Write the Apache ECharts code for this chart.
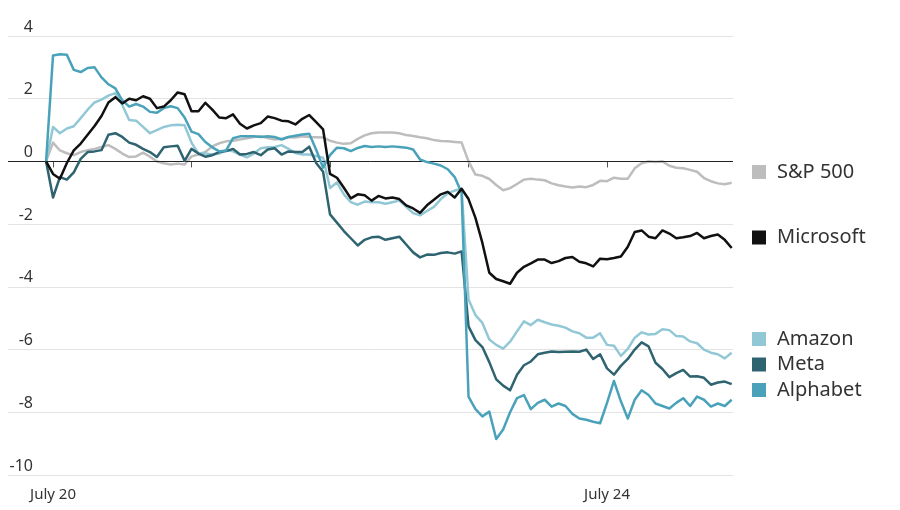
<!DOCTYPE html>
<html>
<head>
<meta charset="utf-8">
<script src="https://cdn.jsdelivr.net/npm/echarts@6/dist/echarts.min.js"></script>
<style>
html,body{margin:0;padding:0;background:#fff;}
#chart{width:900px;height:510px;}
</style>
</head>
<body>
<div id="chart"></div>
<script>
// Tick positions (data index) and labels
var tickPositions = [1, 21, 41, 61, 81];
var tickLabels = ['July 20', '', '', '', 'July 24'];

// Percent change series (one value per interval)
var sp500 = [0,0.6,0.35,0.26,0.2,0.3,0.36,0.4,0.46,0.52,
  0.4,0.25,0.14,0.16,0.28,0.15,0.0,-0.06,-0.1,-0.07,
  -0.1,0.16,0.22,0.3,0.48,0.58,0.64,0.66,0.7,0.74,
  0.78,0.8,0.75,0.7,0.72,0.78,0.76,0.8,0.78,0.77,
  0.76,0.66,0.6,0.56,0.58,0.72,0.83,0.9,0.92,0.92,
  0.92,0.9,0.84,0.81,0.77,0.74,0.68,0.65,0.64,0.62,
  0.6,0.0,-0.42,-0.46,-0.56,-0.75,-0.92,-0.85,-0.72,-0.58,
  -0.55,-0.58,-0.6,-0.7,-0.76,-0.8,-0.83,-0.8,-0.82,-0.75,
  -0.62,-0.63,-0.52,-0.55,-0.55,-0.22,-0.06,0.0,-0.02,0.0,
  -0.14,-0.2,-0.22,-0.27,-0.33,-0.53,-0.63,-0.7,-0.73,-0.68];

var microsoft = [0,-0.4,-0.55,-0.05,0.35,0.57,0.85,1.13,1.45,1.88,
  2.05,1.85,2.0,1.95,2.08,2.0,1.7,1.75,1.95,2.2,
  2.14,1.6,1.6,1.87,1.65,1.4,1.38,1.5,1.2,1.05,
  1.15,1.22,1.43,1.38,1.3,1.28,1.18,1.36,1.48,1.25,
  1.02,-0.4,-0.52,-0.84,-1.18,-1.05,-1.08,-1.25,-1.1,-1.18,
  -1.15,-1.2,-1.4,-1.5,-1.64,-1.4,-1.22,-1.05,-0.97,-1.15,
  -0.87,-1.2,-1.8,-2.6,-3.55,-3.75,-3.82,-3.9,-3.55,-3.36,
  -3.25,-3.13,-3.13,-3.24,-3.18,-3.08,-3.05,-3.2,-3.25,-3.35,
  -3.1,-3.12,-3.08,-3.03,-2.72,-2.25,-2.2,-2.4,-2.45,-2.2,
  -2.3,-2.45,-2.42,-2.38,-2.28,-2.45,-2.38,-2.33,-2.5,-2.76];

var amazon = [0,1.1,0.9,1.05,1.12,1.38,1.65,1.88,1.97,2.1,
  2.18,1.8,1.32,1.3,1.1,0.9,1.0,1.1,1.15,1.17,
  1.15,0.6,0.25,0.25,0.22,0.25,0.36,0.32,0.22,0.13,
  0.25,0.42,0.45,0.46,0.52,0.4,0.27,0.22,0.22,0.17,
  0.12,-0.85,-0.67,-1.05,-1.3,-1.38,-1.28,-1.3,-1.3,-1.35,
  -1.3,-1.25,-1.45,-1.65,-1.72,-1.58,-1.45,-1.2,-1.02,-0.93,
  -0.88,-4.4,-4.9,-5.15,-5.68,-5.85,-5.97,-5.75,-5.42,-5.1,
  -5.22,-5.05,-5.13,-5.2,-5.24,-5.3,-5.42,-5.48,-5.62,-5.62,
  -5.48,-5.85,-5.88,-6.2,-5.98,-5.62,-5.45,-5.52,-5.5,-5.35,
  -5.38,-5.57,-5.58,-5.74,-5.8,-6.0,-6.1,-6.15,-6.28,-6.1];

var meta = [0,-1.15,-0.5,-0.58,-0.35,0.08,0.3,0.32,0.36,0.85,
  0.9,0.78,0.6,0.53,0.4,0.3,0.14,0.45,0.48,0.5,
  0.02,0.4,0.25,0.15,0.2,0.3,0.33,0.4,0.22,0.24,
  0.3,0.2,0.38,0.42,0.22,0.32,0.3,0.3,0.47,-0.05,
  -0.33,-1.69,-1.95,-2.22,-2.45,-2.68,-2.5,-2.42,-2.4,-2.5,
  -2.45,-2.4,-2.65,-2.9,-3.06,-2.97,-2.98,-2.92,-2.9,-2.94,
  -2.87,-5.26,-5.7,-5.92,-6.4,-6.95,-7.15,-7.3,-6.8,-6.5,
  -6.38,-6.15,-6.1,-6.06,-6.08,-6.07,-6.06,-6.07,-6.0,-6.3,
  -6.15,-6.6,-6.8,-6.52,-6.3,-6.0,-5.77,-5.9,-6.42,-6.62,
  -6.88,-6.75,-6.65,-6.86,-6.85,-6.9,-7.12,-7.05,-7.02,-7.1];

var alphabet = [0,3.38,3.42,3.4,2.92,2.85,2.98,3.0,2.68,2.46,
  2.33,1.95,1.75,1.83,1.75,1.58,1.55,1.7,1.76,1.7,
  1.4,0.95,0.87,0.62,0.45,0.32,0.35,0.74,0.8,0.8,
  0.8,0.78,0.8,0.78,0.7,0.78,0.82,0.86,0.88,0.37,
  -0.2,0.2,0.44,0.42,0.33,0.43,0.49,0.46,0.48,0.46,
  0.48,0.46,0.44,0.38,0.06,-0.02,-0.07,-0.13,-0.25,-0.5,
  -1.0,-7.5,-7.9,-8.13,-7.98,-8.85,-8.55,-8.0,-7.55,-7.45,
  -7.9,-7.7,-7.6,-7.82,-7.72,-7.8,-8.05,-8.2,-8.24,-8.3,
  -8.35,-7.7,-7.0,-7.65,-8.2,-7.6,-7.3,-7.45,-7.72,-7.8,
  -7.88,-7.7,-7.55,-7.8,-7.5,-7.6,-7.82,-7.72,-7.8,-7.6];

var seriesNames = ['S&P 500', 'Amazon', 'Meta', 'Alphabet', 'Microsoft'];
var seriesValues = [sp500, amazon, meta, alphabet, microsoft];
var seriesColors = ['#bdbdbd', '#92c8d6', '#2e6370', '#4aa2ba', '#111111'];

// Legend labels (order as shown on the right)
var legendNames = ['S&P 500', 'Microsoft', 'Amazon', 'Meta', 'Alphabet'];
var legendColors = ['#bdbdbd', '#111111', '#92c8d6', '#2e6370', '#4aa2ba'];
var legendY = [172, 237.5, 339, 364.5, 390];

function toPairs(arr) { return arr.map(function (v, i) { return [i, v]; }); }

var series = seriesNames.map(function (name, k) {
  var s = {
    name: name, type: 'line', data: toPairs(seriesValues[k]),
    showSymbol: false, symbol: 'none', smooth: false,
    lineStyle: { color: seriesColors[k], width: 2.5, join: 'round' },
    itemStyle: { color: seriesColors[k] },
    z: 3 + k, animation: false, silent: true
  };
  if (k === 0) {
    s.markLine = {
      silent: true, symbol: 'none', animation: false,
      label: { show: false },
      lineStyle: { color: '#222', width: 1, type: 'solid' },
      data: [{ yAxis: 0 }]
    };
  }
  return s;
});

var graphics = [];
legendNames.forEach(function (n, k) {
  graphics.push({ type: 'rect', left: 752, top: legendY[k] - 7, shape: { width: 14, height: 14 }, style: { fill: legendColors[k] }, silent: true });
  graphics.push({ type: 'text', left: 777, top: legendY[k] - 10, style: { text: n, fill: '#333', font: '20px "Noto Sans"', textVerticalAlign: 'top' }, silent: true });
});

var chart = echarts.init(document.getElementById('chart'), null, { renderer: 'canvas' });
chart.setOption({
  animation: false,
  backgroundColor: '#fff',
  grid: { left: 8, right: 167, top: 36, bottom: 35, containLabel: false },
  xAxis: {
    type: 'value', min: -5.5, max: 99.19,
    axisLine: { show: false },
    splitLine: { show: false },
    axisTick: { show: true, customValues: tickPositions, length: 6, lineStyle: { color: '#555', width: 1 } },
    axisLabel: {
      customValues: tickPositions.filter(function (p, i) { return tickLabels[i] !== ''; }),
      formatter: function (v) { var i = tickPositions.indexOf(v); return i >= 0 ? tickLabels[i] : ''; },
      color: '#333', fontSize: 15, fontFamily: 'Noto Sans', margin: 12
    }
  },
  yAxis: {
    type: 'value', min: -10, max: 4, interval: 2,
    axisLine: { show: false }, axisTick: { show: false },
    splitLine: { lineStyle: { color: '#e3e3e3', width: 1 } },
    axisLabel: {
      inside: true, margin: 25, align: 'right', verticalAlign: 'bottom',
      padding: [0, 0, 1, 0],
      color: '#333', fontSize: 16, fontFamily: 'Noto Sans'
    }
  },
  graphic: graphics,
  series: series
});
</script>
</body>
</html>
